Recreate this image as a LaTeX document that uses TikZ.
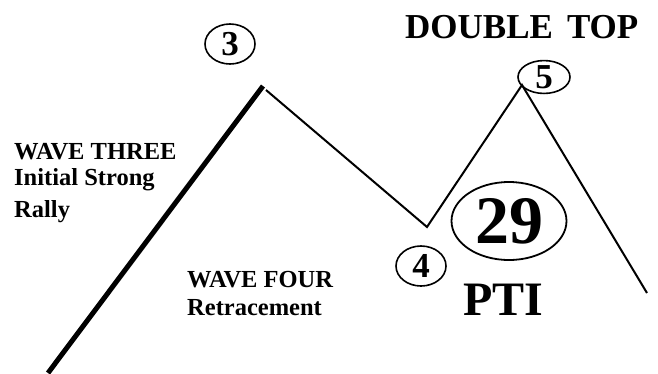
\documentclass[tikz,border=0pt]{standalone}
\usepackage{fontspec}
\setmainfont{Liberation Serif}
\usepackage{tikz}
\usetikzlibrary{shapes.geometric}
\tikzset{
  impulse/.style={line width=5pt, black},
  swing/.style={line width=2pt, black, line join=miter},
  waveno/.style={ellipse, draw, line width=1.6pt, inner sep=0pt, font=\fontsize{35}{35}\selectfont\bfseries},
  wavetxt/.style={anchor=base west, inner sep=0pt, align=left, font=\fontsize{24.5}{28}\selectfont\bfseries},
}

\begin{document}
\begin{tikzpicture}[x=1pt, y=-1pt]
\useasboundingbox (0,0) rectangle (658,373);
\coordinate (w3start) at (48,373);
\coordinate (w3top) at (263,86);
\coordinate (w4start) at (266,90);
\coordinate (w4end) at (427,227);
\coordinate (w5top) at (522,85);
\coordinate (w5end) at (647,293);
\draw[impulse] (w3start) -- (w3top);
\draw[swing] (w4start) -- (w4end) -- (w5top) -- (w5end);
\node[waveno, minimum width=50pt, minimum height=40pt] (n3) at (230,44) {3};
\node[waveno, minimum width=50pt, minimum height=40pt] (n4) at (421,266) {4};
\node[waveno, minimum width=52pt, minimum height=31pt] (n5) at (544,77) {5};
\node[ellipse, draw, line width=1.8pt, inner sep=0pt, minimum width=115pt, minimum height=78pt,
  font=\fontsize{68}{68}\selectfont\bfseries] (pti) at (509,221) {29};
\node[anchor=base west, inner sep=0pt, font=\fontsize{48}{48}\selectfont\bfseries] (ptilbl) at (463,315) {PTI};
\node[anchor=base west, inner sep=0pt, font=\fontsize{35}{35}\selectfont\bfseries] (dtop) at (405,38) {DOUBLE\hspace{14pt}TOP};
\node[wavetxt, font=\fontsize{24.5}{26}\selectfont\bfseries] (three) at (14,217) {WAVE THREE\\Initial Strong\\[6pt]Rally};
\node[wavetxt] (four) at (187,315) {WAVE FOUR\\Retracement};
\end{tikzpicture}
\end{document}
